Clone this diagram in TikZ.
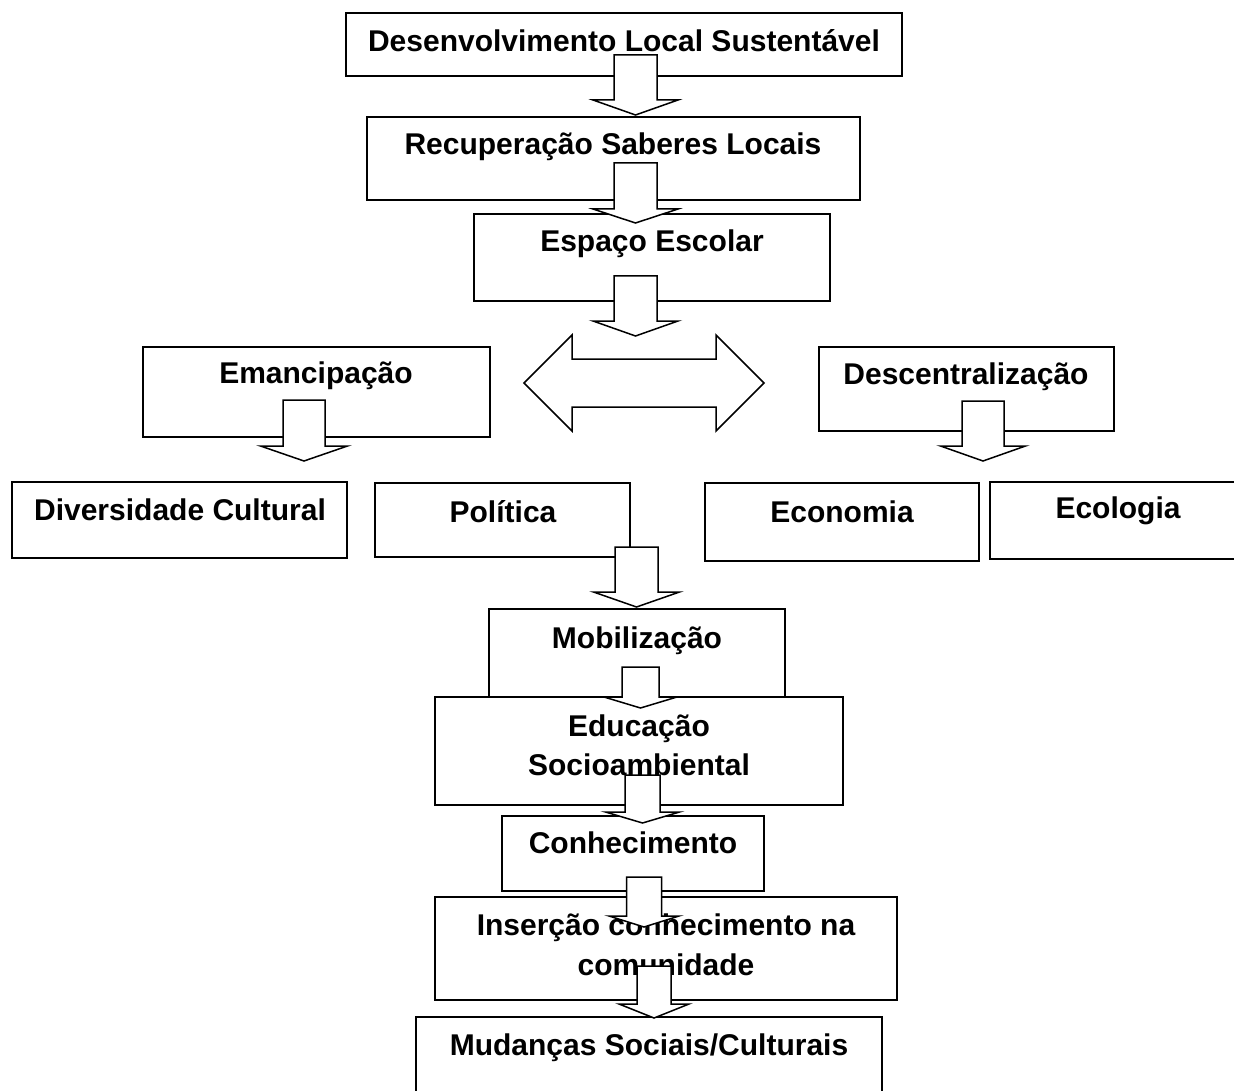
\documentclass[tikz,border=0pt]{standalone}
\usepackage{fontspec}
\setmainfont{Liberation Sans}
\newcommand\mkbox[5]{\node[box,minimum width={(#4-#2)*1pt},minimum height={(#5-#3)*1pt}] (#1) at ({(#2+#4)/2},{(#3+#5)/2}) {};}
% #1 name, #2 centre x, #3 half shaft, #4 half head, #5 shaft top, #6 head base, #7 tip
\newcommand\blkdown[7]{\draw[blockarrow] ({#2-#3},{#6}) -- ({#2-#3},{#5}) -- ({#2+#3},{#5}) -- ({#2+#3},{#6}) -- ({#2+#4},{#6}) -- ({#2},{#7}) coordinate (#1) -- ({#2-#4},{#6}) -- cycle;}
\begin{document}
\begin{tikzpicture}[x=1pt,y=-1pt,
  box/.style={draw=black,line width=1.5pt,fill=white,inner sep=0pt,rectangle},
  lbl/.style={font=\fontsize{30}{40}\selectfont\bfseries,inner sep=0pt,anchor=base},
  blockarrow/.style={draw=black,line width=1.5pt,fill=white,line join=miter}]
\useasboundingbox[fill=white] (0,0) rectangle (1234,1091);
% boxes
\mkbox{b1}{346}{13}{902}{76}
\mkbox{b2}{367}{117}{860}{200}
\mkbox{b3}{474}{214}{830}{301}
\mkbox{b4}{143}{347}{490}{437}
\mkbox{b5}{819}{347}{1114}{431}
\mkbox{b6}{12}{482}{347}{558}
\mkbox{b7}{375}{483}{630}{557}
\mkbox{b8}{705}{483}{979}{561}
\mkbox{b9}{990}{482}{1246}{559}
\mkbox{b10}{489}{609}{785}{697}
\mkbox{b11}{435}{697}{843}{805}
\mkbox{b12}{502}{816}{764}{891}
\mkbox{b13}{435}{897}{897}{1000}
\mkbox{b14}{416}{1017}{882}{1110}
% labels
\node[lbl] (t1) at (624,52) {Desenvolvimento Local Sustentável};
\node[lbl] (t2) at (613,155) {Recuperação Saberes Locais};
\node[lbl] (t3) at (652,252) {Espaço Escolar};
\node[lbl] (t4) at (316,383) {Emancipação};
\node[lbl] (t5) at (966,384) {Descentralização};
\node[lbl] (t6) at (180,520) {Diversidade Cultural};
\node[lbl] (t7) at (503,522) {Política};
\node[lbl] (t8) at (842,522) {Economia};
\node[lbl] (t9) at (1118,518) {Ecologia};
\node[lbl] (t10) at (637,648) {Mobilização};
\node[lbl] (t11a) at (639,736) {Educação};
\node[lbl] (t11b) at (639,775) {Socioambiental};
\node[lbl] (t12) at (633,853) {Conhecimento};
\node[lbl] (t13a) at (666,935) {Inserção conhecimento na};
\node[lbl] (t13b) at (666,975) {comunidade};
\node[lbl] (t14) at (649,1055) {Mudanças Sociais/Culturais};
% block arrows
\blkdown{a1}{635.5}{21.5}{42.5}{55}{100}{115}
\blkdown{a2}{635.5}{21.5}{42.5}{163}{209}{223}
\blkdown{a3}{635.5}{21.5}{42.5}{276}{321}{336}
\blkdown{a4}{304}{21}{43.5}{400}{446}{461}
\blkdown{a5}{983}{21}{42.5}{401}{446}{461}
\blkdown{a6}{636.5}{21.5}{43}{547}{592}{607}
\blkdown{a7}{640.5}{18.5}{36.5}{667}{697}{708}
\blkdown{a8}{642.5}{17.5}{37}{775}{812}{823}
\blkdown{a9}{644}{17.5}{35}{877}{916}{927}
\blkdown{a10}{654}{17}{35}{966}{1004}{1018}
% double arrow
\draw[blockarrow] (524,383) coordinate (dl) -- (572,335) -- (572,359) -- (716,359) -- (716,335) -- (764,383) coordinate (dr) -- (716,431) -- (716,407) -- (572,407) -- (572,431) -- cycle;
\end{tikzpicture}
\end{document}
